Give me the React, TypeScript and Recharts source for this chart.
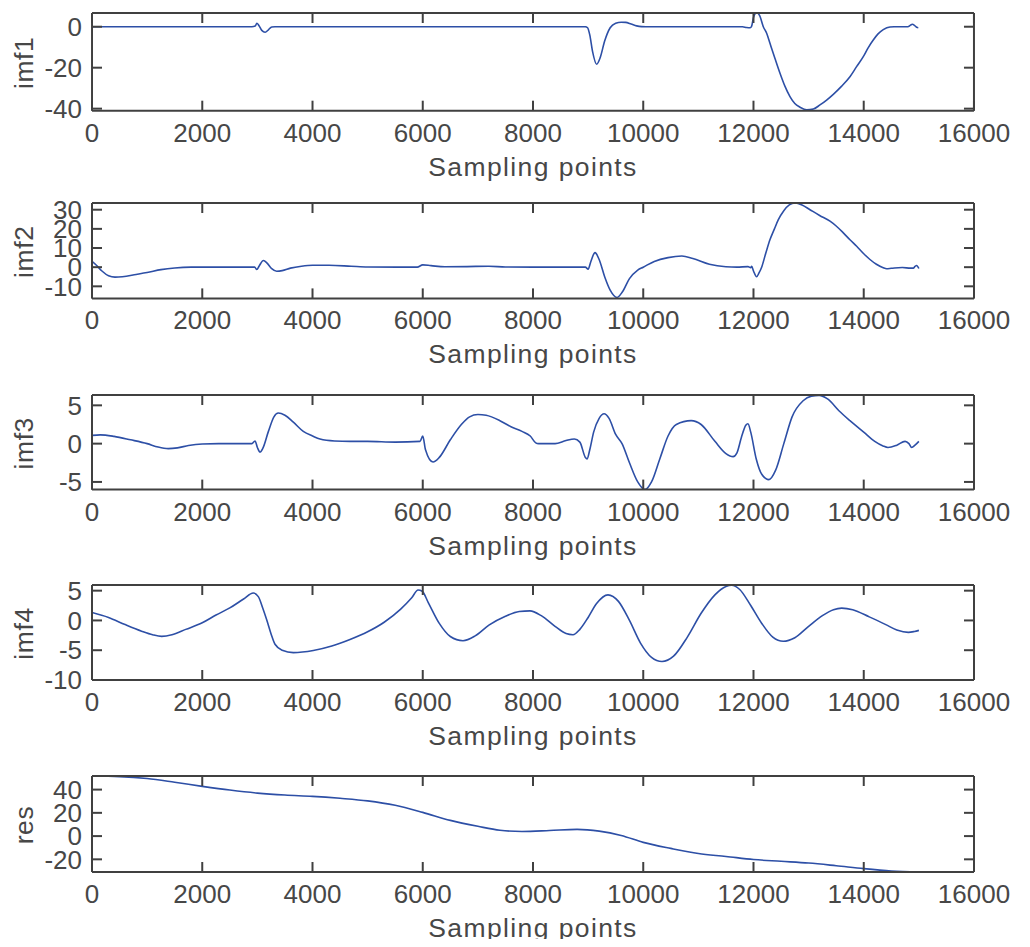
import React from 'react';
import { LineChart, Line, XAxis, YAxis } from 'recharts';

// shared x axis (sample index)
const xTicks = [0, 2000, 4000, 6000, 8000, 10000, 12000, 14000, 16000];

// imf1
const imf1X = [0, 2900, 2960, 2990, 3030, 3080, 3140, 3200, 3260, 3320, 8950, 8990, 9030, 9080, 9155, 9220, 9300, 9400, 9500, 9600, 9680, 9780, 9880, 9970, 10050, 11800, 11876, 11940, 11967, 12000, 12057, 12110, 12178, 12239, 12299, 12390, 12481, 12570, 12662, 12750, 12844, 12965, 13086, 13206, 13327, 13448, 13600, 13750, 13870, 13992, 14080, 14173, 14260, 14354, 14476, 14550, 14800, 14850, 14880, 14920, 14960, 14990];
const imf1Y = [0, 0, 0.3, 1.7, 0.5, -1.8, -2.7, -1.5, -0.1, 0, 0, -0.5, -4, -12, -18.3, -15, -7, -0.5, 1.7, 2.2, 2.1, 1.3, 0.4, 0.05, 0, 0, -0.4, -0.5, 0.3, 4.5, 6.8, 5.5, 0, -3.2, -8.1, -15.5, -22.7, -29, -34.1, -37.5, -39.3, -40.6, -40.2, -38.2, -35.8, -33, -29, -24.4, -19.5, -14.6, -10.3, -6.5, -3.5, -1.4, -0.1, 0, 0, 0.8, 1.2, 0.7, -0.3, -0.5];

// imf2
const imf2X = [0, 80, 180, 300, 417, 550, 800, 1000, 1250, 1500, 1800, 2950, 2990, 3030, 3108, 3180, 3260, 3350, 3450, 3600, 3800, 4000, 4300, 4700, 5000, 5900, 6000, 6150, 6400, 6800, 7200, 7500, 8000, 8950, 9000, 9050, 9125, 9200, 9300, 9400, 9524, 9620, 9750, 9900, 10000, 10200, 10450, 10700, 10900, 11200, 11500, 11700, 11900, 11950, 11967, 12000, 12057, 12100, 12148, 12220, 12300, 12380, 12451, 12550, 12650, 12753, 12880, 13025, 13200, 13388, 13500, 13630, 13750, 13872, 14000, 14113, 14230, 14354, 14415, 14500, 14700, 14850, 14900, 14930, 14960, 15000];
const imf2Y = [3.1, 1, -2, -4.5, -5.2, -5, -3.8, -2.8, -1.3, -0.4, 0, 0, -1.2, 0.5, 3.5, 2, -0.8, -2.1, -1.8, -0.5, 0.5, 1, 1, 0.5, 0.1, 0, 1.2, 0.8, 0.2, 0.3, 0.5, 0.1, 0, 0, -1, 3, 7.6, 4, -5, -12, -15.8, -13, -6, -1.5, 0, 3, 5, 5.8, 4.5, 1.5, 0.2, 0, 0.3, -0.3, 0.5, -2, -5, -3, 0, 7, 14.4, 20, 24.8, 29.5, 32.5, 33.5, 32.5, 30, 27, 24, 21.5, 17.9, 14.3, 10.9, 7, 4, 1.5, -0.3, -0.8, -0.6, -0.2, -0.5, -0.5, 0.4, 0.9, -0.7];

// imf3
const imf3X = [0, 150, 400, 700, 1000, 1200, 1384, 1550, 1750, 2000, 2300, 2900, 2957, 3000, 3048, 3100, 3200, 3300, 3380, 3500, 3652, 3833, 4000, 4136, 4400, 4680, 5000, 5500, 5950, 6000, 6050, 6186, 6300, 6500, 6700, 6850, 7000, 7150, 7400, 7600, 7800, 7950, 8050, 8100, 8400, 8600, 8750, 8850, 8950, 8980, 9030, 9100, 9200, 9290, 9380, 9500, 9615, 9750, 9900, 10030, 10150, 10300, 10450, 10600, 10870, 11050, 11300, 11500, 11630, 11700, 11780, 11860, 11900, 11950, 12050, 12150, 12280, 12400, 12550, 12700, 12900, 13050, 13190, 13350, 13550, 13750, 14000, 14200, 14350, 14440, 14600, 14750, 14820, 14870, 14930, 15000];
const imf3Y = [1.08, 1.15, 0.95, 0.5, 0, -0.45, -0.65, -0.55, -0.25, -0.05, 0, 0, 0.35, -0.5, -1.1, -0.6, 1.6, 3.5, 4, 3.7, 2.8, 1.6, 1.0, 0.6, 0.35, 0.3, 0.3, 0.2, 0.3, 1, -0.8, -2.4, -1.8, 0.5, 2.5, 3.5, 3.8, 3.7, 3, 2.2, 1.6, 1, 0.1, 0, 0, 0.4, 0.6, 0.2, -1.8, -2, -0.8, 1.5, 3.3, 3.9, 3.3, 1.2, 0, -2.5, -5, -6, -5, -2, 1, 2.5, 3, 2.5, 0.3, -1.3, -1.7, -1.2, 0.8, 2.4, 2.6, 1.5, -2, -4, -4.7, -3.5, 0, 3.5, 5.6, 6.2, 6.3, 5.8, 4.3, 3, 1.5, 0.3, -0.3, -0.5, -0.2, 0.3, 0, -0.5, -0.2, 0.3];

// imf4
const imf4X = [0, 300, 600, 900, 1100, 1264, 1450, 1700, 2000, 2250, 2500, 2750, 2926, 3017, 3100, 3169, 3250, 3320, 3450, 3652, 4015, 4350, 4680, 5000, 5300, 5600, 5800, 5915, 5990, 6100, 6300, 6500, 6730, 6950, 7200, 7500, 7750, 7945, 8150, 8400, 8600, 8725, 8850, 9000, 9150, 9360, 9550, 9750, 9950, 10150, 10340, 10550, 10800, 11050, 11300, 11500, 11604, 11750, 11950, 12150, 12350, 12541, 12750, 13000, 13250, 13450, 13600, 13800, 14100, 14400, 14600, 14809, 14920, 15000];
const imf4Y = [1.33, 0.5, -0.7, -1.8, -2.4, -2.67, -2.4, -1.5, -0.4, 0.9, 2.1, 3.6, 4.6, 4, 2, 0.1, -2.3, -4, -5, -5.4, -5.05, -4.3, -3.2, -1.9, -0.3, 1.9, 3.8, 5.1, 4.9, 3, -0.5, -2.7, -3.4, -2.6, -0.8, 0.7, 1.5, 1.6, 0.8, -1, -2.2, -2.4, -1.5, 0.5, 2.8, 4.3, 3.2, 0, -3.8, -6.2, -6.9, -6, -2.8, 1.2, 4.3, 5.7, 5.9, 5.2, 2.5, -0.5, -2.8, -3.5, -2.9, -1, 0.8, 1.8, 2.07, 1.8, 0.6, -0.7, -1.6, -2, -1.85, -1.67];

// residual trend
const resX = [0, 500, 1000, 1500, 2000, 2500, 3000, 3500, 4000, 4500, 5000, 5500, 6000, 6500, 7000, 7400, 7800, 8300, 8800, 9200, 9600, 10000, 10500, 11000, 11500, 12000, 12500, 13000, 13500, 14000, 14500, 15000];
const resY = [51.7, 51.2, 49.5, 46.3, 42.8, 39.6, 37, 35.3, 34.2, 32.5, 30.3, 26.5, 20.4, 13.5, 8.4, 5, 4, 4.8, 5.8, 4.3, 0.5, -5.4, -10.6, -15, -17.5, -20.2, -21.7, -23.2, -25.5, -28, -30, -31];

const AXIS = '#404040';
const TEXT = '#474747';
const LINE = '#2d4fa6';
const FONT = 'Arial, "Liberation Sans", Helvetica, sans-serif';

const CHART_W = 1005;
const MARGIN_TOP = 6;
const X_AXIS_H = 72;

interface PanelProps {
  name: string;
  xs: number[];
  ys: number[];
  yDomain: [number, number];
  yTicks: number[];
  plotTop: number;
  plotBottom: number;
}

function Panel({ name, xs, ys, yDomain, yTicks, plotTop, plotBottom }: PanelProps) {
  const plotH = plotBottom - plotTop;
  const data = xs.map((x, i) => ({ x, v: ys[i] }));
  const axisLine = { stroke: AXIS, strokeWidth: 2 };
  const tickLine = { stroke: AXIS, strokeWidth: 2 };
  const tickStyle = { fill: TEXT, fontSize: 26, fontFamily: FONT };

  const xLabel = (props: any) => {
    const vb = props.viewBox;
    return (
      <text
        x={vb.x + vb.width / 2}
        y={vb.y + 65}
        textAnchor="middle"
        fill={TEXT}
        fontSize={26.5}
        fontFamily={FONT}
        letterSpacing={1.4}
      >
        Sampling points
      </text>
    );
  };

  const yLabel = (props: any) => {
    const vb = props.viewBox;
    const cx = vb.x + 25.3;
    const cy = vb.y + vb.height / 2 + 1;
    return (
      <text
        x={cx}
        y={cy}
        transform={`rotate(-90, ${cx}, ${cy})`}
        textAnchor="middle"
        fill={TEXT}
        fontSize={26.5}
        fontFamily={FONT}
        letterSpacing={0.6}
      >
        {name}
      </text>
    );
  };

  return (
    <div style={{ position: 'absolute', left: 0, top: plotTop - 8 - MARGIN_TOP }}>
      <LineChart
        width={CHART_W}
        height={MARGIN_TOP + plotH + X_AXIS_H}
        data={data}
        margin={{ top: MARGIN_TOP - 1, right: 38, bottom: 0, left: 0 }}
      >
        <XAxis
          xAxisId="b"
          dataKey="x"
          type="number"
          domain={[0, 16000]}
          ticks={xTicks}
          interval={0}
          allowDataOverflow
          height={X_AXIS_H}
          tickSize={-10}
          tickMargin={22.5}
          axisLine={axisLine}
          tickLine={tickLine}
          tick={tickStyle}
          label={{ value: 'Sampling points', content: xLabel }}
        />
        {/* top edge of the box, ticks pointing in */}
        <XAxis
          xAxisId="t"
          orientation="top"
          dataKey="x"
          type="number"
          domain={[0, 16000]}
          ticks={xTicks}
          interval={0}
          allowDataOverflow
          height={1}
          tickSize={-10}
          axisLine={axisLine}
          tickLine={tickLine}
          tickFormatter={() => ''}
        />
        <YAxis
          yAxisId="l"
          type="number"
          domain={yDomain}
          ticks={yTicks}
          interval={0}
          allowDataOverflow
          width={84}
          tickSize={-10}
          tickMargin={20}
          axisLine={axisLine}
          tickLine={tickLine}
          tick={tickStyle}
          label={{ value: name, content: yLabel }}
        />
        {/* right edge of the box */}
        <YAxis
          yAxisId="r"
          orientation="right"
          type="number"
          domain={yDomain}
          ticks={yTicks}
          interval={0}
          allowDataOverflow
          width={1}
          tickSize={-10}
          axisLine={axisLine}
          tickLine={tickLine}
          tickFormatter={() => ''}
        />
        {/* unstroked copy so the top/right axes have a series */}
        <Line
          xAxisId="t"
          yAxisId="r"
          dataKey="v"
          type="monotone"
          dot={false}
          stroke="none"
          isAnimationActive={false}
        />
        <Line
          xAxisId="b"
          yAxisId="l"
          dataKey="v"
          type="monotone"
          dot={false}
          stroke={LINE}
          strokeWidth={1.6}
          isAnimationActive={false}
        />
      </LineChart>
    </div>
  );
}

export default function App() {
  return (
    <div style={{ position: 'relative', width: CHART_W, height: 931 }}>
      <Panel name="imf1" xs={imf1X} ys={imf1Y} yDomain={[-41, 6.7]} yTicks={[-40, -20, 0]} plotTop={13} plotBottom={110.7} />
      <Panel name="imf2" xs={imf2X} ys={imf2Y} yDomain={[-16.3, 33.5]} yTicks={[-10, 0, 10, 20, 30]} plotTop={203.3} plotBottom={298.7} />
      <Panel name="imf3" xs={imf3X} ys={imf3Y} yDomain={[-6, 6.35]} yTicks={[-5, 0, 5]} plotTop={394.7} plotBottom={489.3} />
      <Panel name="imf4" xs={imf4X} ys={imf4Y} yDomain={[-10, 5.95]} yTicks={[-10, -5, 0, 5]} plotTop={585.3} plotBottom={680.3} />
      <Panel name="res" xs={resX} ys={resY} yDomain={[-30.9, 51.7]} yTicks={[-20, 0, 20, 40]} plotTop={775.7} plotBottom={871.7} />
    </div>
  );
}
